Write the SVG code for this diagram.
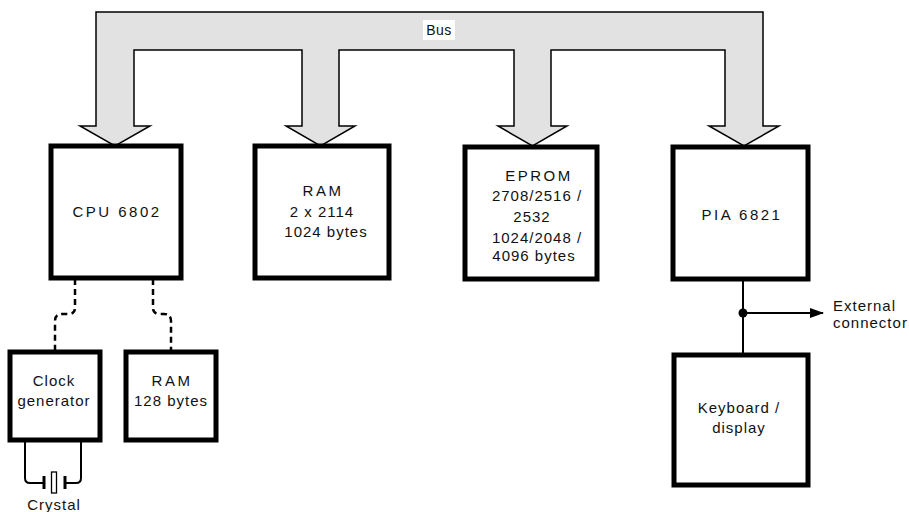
<svg xmlns="http://www.w3.org/2000/svg" width="909" height="512" viewBox="0 0 909 512">
<style>
.box{fill:#fff;stroke:#000;stroke-width:5}
.t{font-family:"Liberation Sans",Arial,sans-serif;font-size:15px;fill:#111;text-anchor:middle;letter-spacing:1px}
.w{letter-spacing:2.5px}
.dash{fill:none;stroke:#000;stroke-width:2.5;stroke-dasharray:6 4}
.wire{fill:none;stroke:#000;stroke-width:2}
</style>
<defs>
<marker id="arr" markerWidth="14" markerHeight="10" refX="13" refY="5" orient="auto" markerUnits="userSpaceOnUse">
<path d="M0,0 L14,5 L0,10 Z" fill="#000"/>
</marker>
</defs>
<rect width="909" height="512" fill="#fff"/>
<g id="bus">
<path d="M96,12 H763 V126 H779 L744,146 L709,126 H725 V50 H551 V126 H567 L532.5,146 L498,126 H514 V50 H339 V126 H355 L320.5,146 L286,126 H302 V50 H134 V126 H150 L115,146 L80,126 H96 Z" fill="#e2e2e2" stroke="#000" stroke-width="1.5"/>
<rect x="423" y="20" width="32" height="20" fill="#fff"/>
<text class="t" x="439" y="35" style="font-size:14px;letter-spacing:0.5px">Bus</text>
</g>
<g id="connectors">
<path class="dash" d="M75,279 V308 Q75,314 68,314 H62 Q55,314 55,321 V352"/>
<path class="dash" d="M153,279 V308 Q153,314 160,314 H164 Q171,314 171,321 V352"/>
<path class="wire" d="M25,440 V478 Q25,483 30,483 H43"/>
<path class="wire" d="M81,440 V478 Q81,483 76,483 H64"/>
<line x1="44" y1="476" x2="44" y2="489" stroke="#000" stroke-width="3"/>
<line x1="65" y1="476" x2="65" y2="489" stroke="#000" stroke-width="3"/>
<rect x="51.5" y="472" width="5" height="21" fill="#fff" stroke="#000" stroke-width="1.3"/>
<line class="wire" x1="743" y1="279" x2="743" y2="355"/>
<line class="wire" x1="743" y1="313" x2="823" y2="313" marker-end="url(#arr)"/>
<circle cx="743" cy="313" r="4.5" fill="#000"/>
</g>
<g id="cpu">
<rect class="box" x="51" y="146" width="130" height="132"/>
<text class="t w" x="117" y="217">CPU 6802</text>
</g>
<g id="ram">
<rect class="box" x="255" y="146" width="134" height="132"/>
<text class="t w" x="323" y="196">RAM</text>
<text class="t" x="322" y="217">2 x 2114</text>
<text class="t" x="326" y="237">1024 bytes</text>
</g>
<g id="eprom">
<rect class="box" x="465" y="147" width="132" height="132"/>
<text class="t w" x="539" y="181">EPROM</text>
<text class="t" x="537" y="201">2708/2516 /</text>
<text class="t" x="532" y="222">2532</text>
<text class="t" x="537" y="243">1024/2048 /</text>
<text class="t" x="534" y="261">4096 bytes</text>
</g>
<g id="pia">
<rect class="box" x="673" y="147" width="135" height="132"/>
<text class="t w" x="742" y="220">PIA 6821</text>
</g>
<g id="external">
<text class="t" x="833" y="311" style="text-anchor:start">External</text>
<text class="t" x="833" y="328" style="text-anchor:start">connector</text>
</g>
<g id="keyboard">
<rect class="box" x="674" y="355" width="134" height="130"/>
<text class="t" x="739" y="413">Keyboard /</text>
<text class="t" x="739" y="433">display</text>
</g>
<g id="clock">
<rect class="box" x="10" y="352" width="90" height="88"/>
<text class="t" x="54" y="386">Clock</text>
<text class="t" x="54" y="406">generator</text>
</g>
<g id="ram128">
<rect class="box" x="126" y="352" width="90" height="88"/>
<text class="t w" x="172" y="386">RAM</text>
<text class="t" x="171" y="406">128 bytes</text>
</g>
<g id="crystal">
<text class="t" x="54" y="510">Crystal</text>
</g>
</svg>
